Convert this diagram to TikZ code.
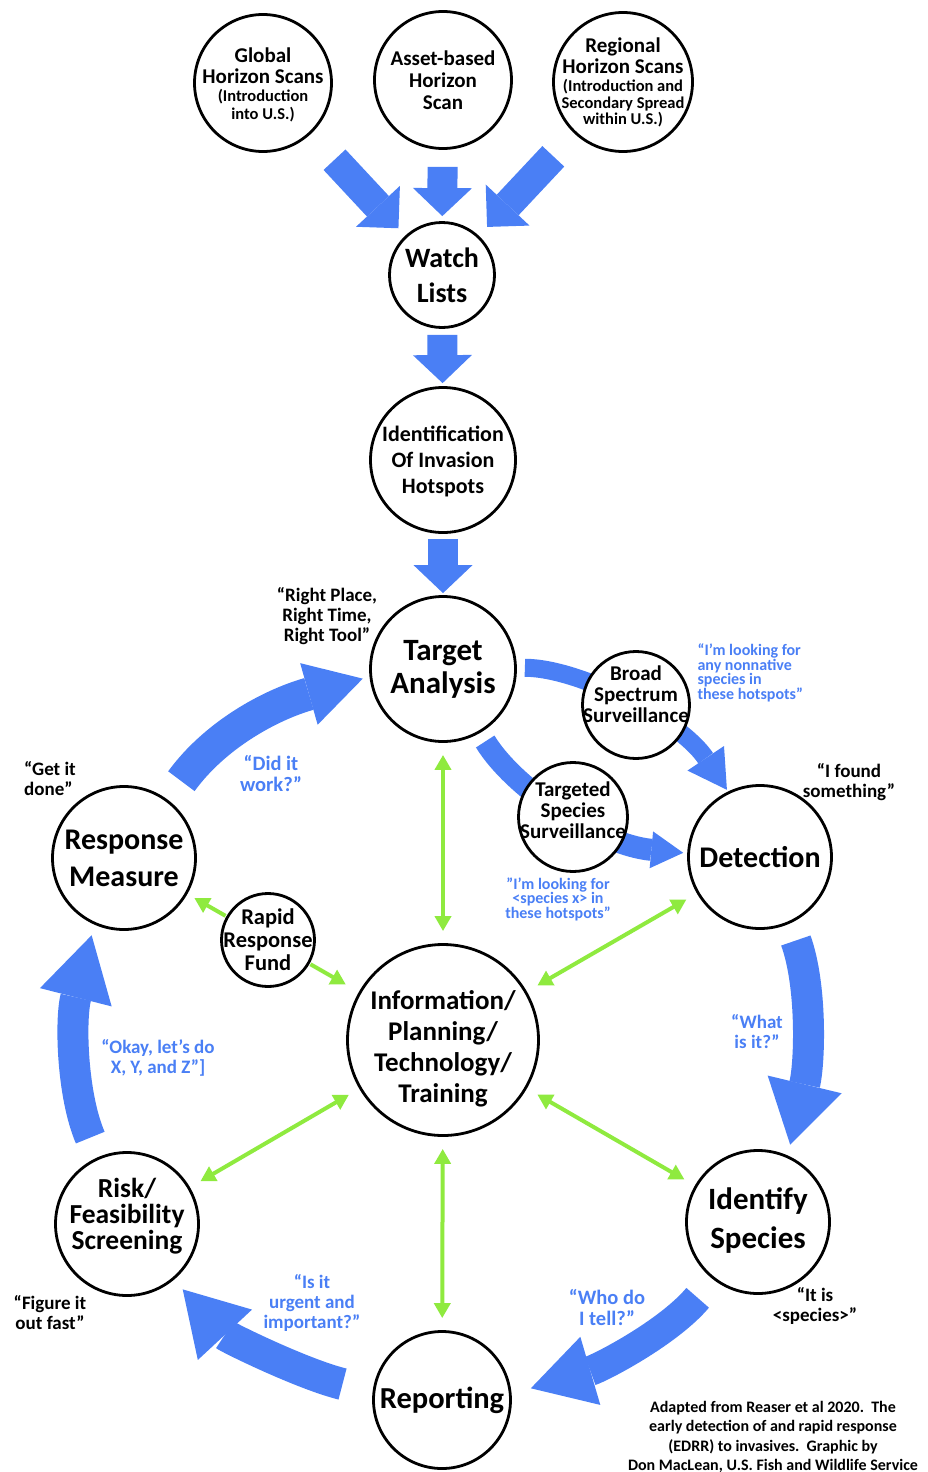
\documentclass[tikz,border=0pt]{standalone}
\usepackage{fontspec}
\setmainfont{Carlito}
\usetikzlibrary{arrows.meta,backgrounds}

\definecolor{flowblue}{RGB}{74,127,245}
\definecolor{linkgreen}{RGB}{143,234,63}
\newcommand{\bubblefont}[2]{\fontsize{#1}{#2}\selectfont\bfseries}
\newcommand{\smallfont}{\fontsize{16.5}{18}\selectfont}

\tikzset{
	bubble/.style={circle, draw=black, line width=2.8pt, fill=white, inner sep=0pt},
	words/.style={align=center, inner sep=0pt},
	flow/.style={draw=flowblue, line cap=butt},
	flowtip/.style 2 args={-{Triangle[width=#1,length=#2,line width=0pt]}},
	link/.style={draw=linkgreen, line width=4pt,
		>={Triangle[width=16pt,length=15pt]}, shorten <=12pt, shorten >=12pt},
	saying/.style={align=center, font=\bubblefont{19}{20}},
	asking/.style={saying, text=flowblue},
}

\begin{document}
\begin{tikzpicture}[x=1pt, y=-1pt]
	\useasboundingbox (0,0) rectangle (928,1472);
	% Horizon scans.
	\node[bubble, minimum size=137pt, label={[words, font=\bubblefont{21}{21}, yshift=-2pt]center:
		Global\\Horizon Scans\\[-3pt]{\smallfont (Introduction}\\[-3pt]{\smallfont into U.S.)}}] (global) at (263,83) {};
	\node[bubble, minimum size=137pt, label={[words, font=\bubblefont{21}{22}]center:
		Asset-based\\Horizon\\Scan}] (asset) at (443,80) {};
	\node[bubble, minimum size=139pt, label={[words, font=\bubblefont{21}{21}]center:
		Regional\\Horizon Scans\\[-3pt]{\smallfont (Introduction and}\\[-4pt]{\smallfont Secondary Spread}\\[-5pt]{\smallfont within U.S.)}}] (regional) at (623,82) {};
	% Main column.
	\node[bubble, minimum size=105pt, label={[words, font=\bubblefont{28}{35}]center:
		Watch\\Lists}] (watch) at (442,275) {};
	\node[bubble, minimum size=145pt, label={[words, font=\bubblefont{22}{26}, yshift=-1pt]center:
		Identification\\Of Invasion\\Hotspots}] (ident) at (443,460) {};
	\node[bubble, minimum size=145pt, label={[words, font=\bubblefont{31}{33}]center:
		Target\\Analysis}] (target) at (443,669) {};
	\node[bubble, minimum size=191pt, label={[words, font=\bubblefont{27}{31}, yshift=-9pt]center:
		Information/\\Planning/\\Technology/\\Training}] (info) at (443,1040) {};
	\node[bubble, minimum size=137pt, label={[words, font=\bubblefont{30.5}{30}]center:
		Reporting}] (reporting) at (442,1400) {};
	% Surveillance.
	\node[bubble, minimum size=107pt, label={[words, font=\bubblefont{21}{21}, yshift=11pt]center:
		Broad\\Spectrum\\Surveillance}] (broad) at (636,705) {};
	\node[bubble, minimum size=109pt, label={[words, font=\bubblefont{21}{21}, yshift=7pt]center:
		Targeted\\Species\\Surveillance}] (targeted) at (573,817) {};
	% Ring.
	\node[bubble, minimum size=143pt, label={[words, font=\bubblefont{30}{30}]center:
		Detection}] (detection) at (760,857) {};
	\node[bubble, minimum size=143pt, label={[words, font=\bubblefont{31}{39}, yshift=1pt]center:
		Identify\\Species}] (identify) at (758,1222) {};
	\node[bubble, minimum size=143pt, label={[words, font=\bubblefont{27.5}{26}, yshift=8pt]center:
		Risk/\\Feasibility\\Screening}] (risk) at (127,1224) {};
	\node[bubble, minimum size=143pt, label={[words, font=\bubblefont{30}{37}]center:
		Response\\Measure}] (response) at (124,858) {};
	\node[bubble, minimum size=93pt, label={[words, font=\bubblefont{22.5}{23}]center:
		Rapid\\Response\\Fund}] (fund) at (268,940) {};
	% Blue flow arrows.
	\begin{scope}[on background layer]
		\draw[flow, line width=30pt, flowtip={60pt}{30pt}, shorten <=35pt, shorten >=10pt]
			(global) -- (watch);
		\draw[flow, line width=30pt, flowtip={59pt}{28pt}, shorten <=17pt, shorten >=5pt]
			(asset) -- (watch);
		\draw[flow, line width=30pt, flowtip={60pt}{30pt}, shorten <=31pt, shorten >=12pt]
			(regional) -- (watch);
		\draw[flow, line width=30pt, flowtip={59pt}{28pt}, shorten <=6pt, shorten >=3pt]
			(watch) -- (ident);
		\draw[flow, line width=30pt, flowtip={59pt}{28pt}, shorten <=5pt, shorten >=2pt]
			(ident) -- (target);
		\draw[flow, line width=18pt, flowtip={44pt}{38pt}, shorten <=8pt, shorten >=2pt]
			(target.1) .. controls (580,668) and (680,720) .. (detection.116);
		\draw[flow, line width=22pt, flowtip={37pt}{32pt}, shorten <=10pt, shorten >=4pt]
			(target.-60) .. controls (515,790) and (600,845) .. (detection.177);
		\draw[flow, line width=31pt, flowtip={76pt}{62pt}, shorten <=18pt, shorten >=11pt]
			(detection.-66) .. controls (812,985) and (810,1062) .. (identify.66);
		\draw[flow, line width=30pt, flowtip={71pt}{62pt}, shorten <=24pt, shorten >=20pt]
			(identify.-128) .. controls (668,1333) and (600,1368) .. (reporting.5);
		\draw[flow, line width=32pt, flowtip={74pt}{62pt}, shorten <=31pt, shorten >=13pt]
			(reporting.173) .. controls (302,1374) and (227,1337) .. (risk.-50);
		\draw[flow, line width=31pt, flowtip={74pt}{64pt}, shorten <=21pt, shorten >=11pt]
			(risk.113) .. controls (72,1095) and (70,1020) .. (response.246);
		\draw[flow, line width=33pt, flowtip={64pt}{56pt}, shorten <=23pt, shorten >=7pt]
			(response.53) .. controls (215,735) and (270,705) .. (target.186);
	\end{scope}
	% Green links.
	\draw[link, <->] (target) -- (info);
	\draw[link, <->] (detection) -- (info);
	\draw[link, <->] (info) -- (identify);
	\draw[link, <->] (info) -- (risk);
	\draw[link, <->] (info) -- (reporting);
	\draw[link, ->, shorten <=1pt, shorten >=8pt] (fund) -- (response);
	\draw[link, ->, shorten <=1pt, shorten >=15pt] (fund) -- (info);
	% Sayings.
	\node[saying] (rightplace) at (327,616) {“Right Place,\\Right Time,\\Right Tool”};
	\node[saying, align=left] (getdone) at (50,779) {“Get it\\done”};
	\node[saying] (found) at (849,782) {“I found\\something”};
	\node[saying] (itis) at (815,1306) {“It is\\<species>”};
	\node[saying] (figure) at (50,1313) {“Figure it\\out fast”};
	% Questions.
	\node[asking, font=\bubblefont{20.5}{21}] (didit) at (271,773) {“Did it\\work?”};
	\node[asking, font=\bubblefont{16}{14.5}, align=left, anchor=west] (broadsay) at (694,673)
		{“I’m looking for\\any nonnative\\species in\\these hotspots”};
	\node[asking, font=\bubblefont{16}{14.5}] (targetsay) at (558,899)
		{”I’m looking for\\<species x> in\\these hotspots”};
	\node[asking] (what) at (757,1032) {“What\\is it?”};
	\node[asking] (okay) at (158,1058) {“Okay, let’s do\\X, Y, and Z”]};
	\node[asking] (urgent) at (312,1303) {“Is it\\urgent and\\important?”};
	\node[asking, font=\bubblefont{20.5}{21}] (tell) at (607,1307) {“Who do\\I tell?”};
	% Credit.
	\node[font=\bubblefont{16}{19.5}, align=center] (credit) at (773,1437)
		{Adapted from Reaser et al 2020.\ \ The\\early detection of and rapid response\\(EDRR) to invasives.\ \ Graphic by\\Don MacLean, U.S. Fish and Wildlife Service};
\end{tikzpicture}
\end{document}
